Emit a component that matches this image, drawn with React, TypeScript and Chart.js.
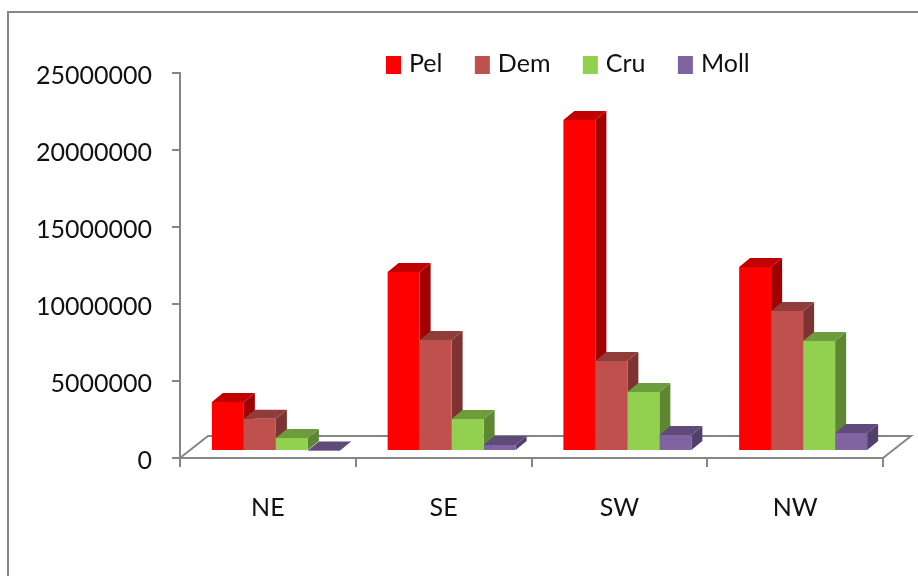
import React, { useEffect, useRef } from "react";
import { Chart, registerables } from "chart.js";

Chart.register(...registerables);

const regions = ["NE", "SE", "SW", "NW"];
const pel = [3180000, 11620000, 21500000, 11950000];
const dem = [2100000, 7200000, 5850000, 9090000];
const cru = [850000, 2080000, 3830000, 7140000];
const moll = [30000, 390000, 1040000, 1170000];
const yTicks = [0, 5000000, 10000000, 15000000, 20000000, 25000000];

const AXIS_GREY = "#868686";
const FONT = "Lato";
const FONT_SIZE = 25;

// Each series: front face, top face, side face.
const seriesStyles = [
  { label: "Pel", data: pel, front: "#FF0000", top: "#C20000", side: "#A00000" },
  { label: "Dem", data: dem, front: "#C0504D", top: "#8F3C3A", side: "#7C3331" },
  { label: "Cru", data: cru, front: "#92D050", top: "#6C9C3B", side: "#5E8733" },
  { label: "Moll", data: moll, front: "#8064A2", top: "#5F4A79", side: "#533F6B" },
];

// Oblique offset of a bar's back face.
const BAR_DEPTH_X = 11;
const BAR_DEPTH_Y = 9;
// Offset of the bars from the front edge of the floor.
const BAR_SHIFT_X = 8;
const BAR_SHIFT_Y = -7;
// Oblique offset of the floor's back edge.
const FLOOR_DEPTH_X = 28;
const FLOOR_DEPTH_Y = 22;
// The value labels sit slightly below their tick marks.
const Y_LABEL_DROP = 3;

const fillPoly = (ctx: CanvasRenderingContext2D, color: string, pts: number[][]) => {
  ctx.fillStyle = color;
  ctx.beginPath();
  pts.forEach(([x, y], i) => (i ? ctx.lineTo(x, y) : ctx.moveTo(x, y)));
  ctx.closePath();
  ctx.fill();
};

// Nudges the cached label items of the value axis before they are painted.
const labelDropPlugin = {
  id: "labelDrop",
  beforeDraw(chart: any) {
    chart.scales.y.getLabelItems(chart.chartArea).forEach((item: any) => {
      item.options.translation = [item.options.translation[0], item.options.translation[1] + Y_LABEL_DROP];
    });
  },
};

// Outer frame, floor of the 3D plot and the top and side faces of each bar.
const depthPlugin = {
  id: "depthFaces",
  beforeDatasetsDraw(chart: any) {
    const { ctx, chartArea: a } = chart;
    ctx.save();
    ctx.strokeStyle = AXIS_GREY;
    ctx.lineWidth = 2;
    ctx.beginPath();
    ctx.moveTo(8, chart.height);
    ctx.lineTo(8, 12);
    ctx.lineTo(chart.width, 12);
    ctx.stroke();
    ctx.beginPath();
    ctx.moveTo(a.left, a.bottom);
    ctx.lineTo(a.left + FLOOR_DEPTH_X, a.bottom - FLOOR_DEPTH_Y);
    ctx.lineTo(a.right + FLOOR_DEPTH_X, a.bottom - FLOOR_DEPTH_Y);
    ctx.lineTo(a.right, a.bottom);
    ctx.stroke();
    ctx.restore();

    ctx.save();
    ctx.translate(BAR_SHIFT_X, BAR_SHIFT_Y);
    seriesStyles.forEach((style, di) => {
      chart.getDatasetMeta(di).data.forEach((bar: any) => {
        const l = bar.x - bar.width / 2;
        const r = bar.x + bar.width / 2;
        const t = bar.y;
        const b = bar.base;
        fillPoly(ctx, style.side, [
          [r, t],
          [r + BAR_DEPTH_X, t - BAR_DEPTH_Y],
          [r + BAR_DEPTH_X, b - BAR_DEPTH_Y],
          [r, b],
        ]);
        fillPoly(ctx, style.top, [
          [l, t],
          [l + BAR_DEPTH_X, t - BAR_DEPTH_Y],
          [r + BAR_DEPTH_X, t - BAR_DEPTH_Y],
          [r, t],
        ]);
      });
    });
  },
  afterDatasetsDraw(chart: any) {
    chart.ctx.restore();
  },
};

// Legend row placed over the top of the plot.
const legendPlugin = {
  id: "topLegend",
  afterDraw(chart: any) {
    const { ctx } = chart;
    ctx.save();
    ctx.font = `${FONT_SIZE}px ${FONT}`;
    ctx.textBaseline = "middle";
    let x = 386;
    seriesStyles.forEach((s) => {
      ctx.fillStyle = s.front;
      ctx.fillRect(x, 56, 15, 18);
      ctx.fillStyle = "#111";
      ctx.fillText(s.label, x + 23, 64);
      x += 23 + ctx.measureText(s.label).width + 32.4;
    });
    ctx.restore();
  },
};

export default function App() {
  const ref = useRef<HTMLCanvasElement>(null);

  useEffect(() => {
    document.body.style.margin = "0";
    document.body.style.background = "#fff";
    const chart = new Chart(ref.current!, {
      type: "bar",
      data: {
        labels: regions,
        datasets: seriesStyles.map((s) => ({
          label: s.label,
          data: s.data,
          backgroundColor: s.front,
          borderWidth: 0,
          clip: false as any,
          categoryPercentage: 128 / 175.75,
          barPercentage: 1,
        })),
      },
      options: {
        responsive: false,
        animation: false,
        layout: { padding: { top: 73, right: 35, bottom: 0, left: 0 } },
        plugins: { legend: { display: false }, tooltip: { enabled: false } },
        scales: {
          x: {
            afterFit: (scale: any) => {
              scale.height = 118;
            },
            border: { color: AXIS_GREY, width: 2 },
            grid: { drawOnChartArea: false, drawTicks: true, tickLength: 9, color: AXIS_GREY, lineWidth: 2 },
            ticks: { color: "#111", padding: 26, font: { family: FONT, size: FONT_SIZE }, maxRotation: 0 },
          },
          y: {
            min: 0,
            max: 25000000,
            afterFit: (scale: any) => {
              scale.width = 180;
            },
            afterBuildTicks: (scale: any) => {
              scale.ticks = yTicks.map((value) => ({ value }));
            },
            border: { color: AXIS_GREY, width: 2 },
            grid: { drawOnChartArea: false, drawTicks: true, tickLength: 8, color: AXIS_GREY, lineWidth: 2 },
            ticks: { color: "#111", padding: 20, font: { family: FONT, size: FONT_SIZE }, callback: (v: any) => String(v) },
          },
        },
      },
      plugins: [labelDropPlugin, depthPlugin, legendPlugin],
    });
    return () => chart.destroy();
  }, []);

  return <canvas ref={ref} width={918} height={576} style={{ display: "block" }} />;
}
